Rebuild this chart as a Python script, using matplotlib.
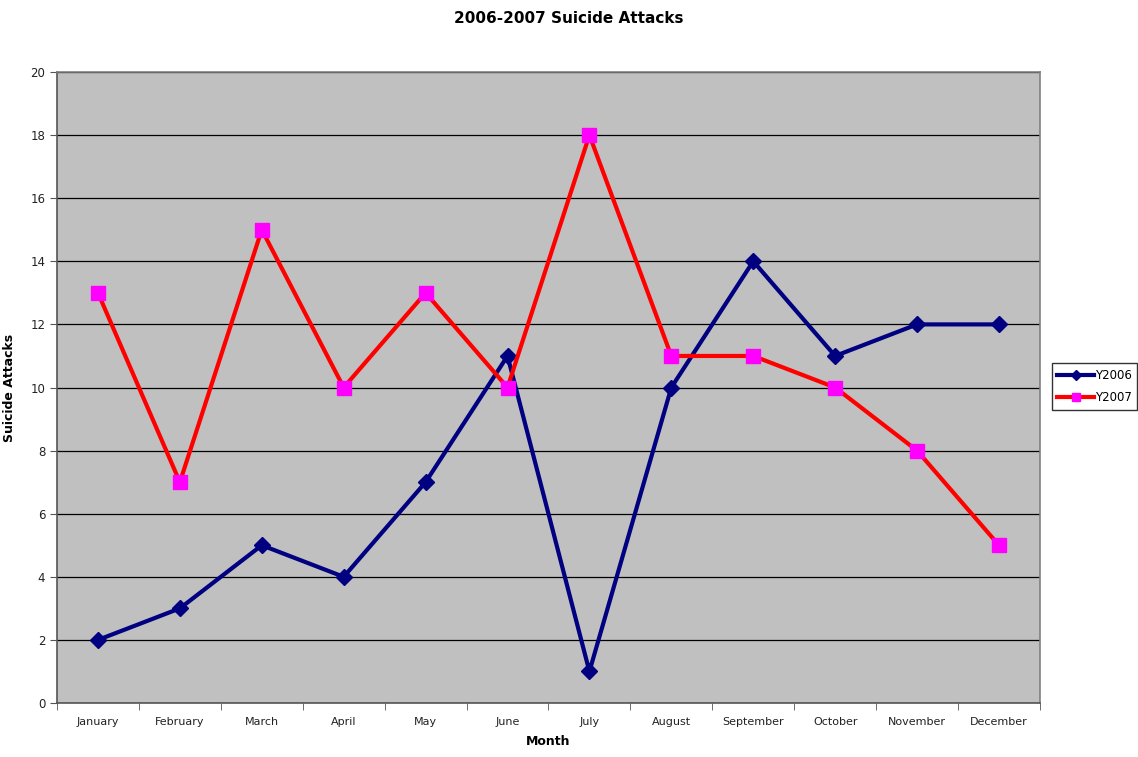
import numpy as np
import matplotlib
matplotlib.use('Agg')
import matplotlib.pyplot as plt

months = ['January', 'February', 'March', 'April', 'May', 'June', 'July',
          'August', 'September', 'October', 'November', 'December']
y2006 = [2, 3, 5, 4, 7, 11, 1, 10, 14, 11, 12, 12]
y2007 = [13, 7, 15, 10, 13, 10, 18, 11, 11, 10, 8, 5]
yticks = list(range(0, 21, 2))

plt.rcParams['font.family'] = 'DejaVu Sans'

fig = plt.figure(figsize=(11.38, 7.57), dpi=100)
ax = fig.add_axes([0.0501, 0.0713, 0.8637, 0.8336])
ax.set_facecolor('#c0c0c0')

x = np.arange(len(months))
ax.plot(x, y2006, color='#000080', lw=3, marker='D', ms=8, label='Y2006', zorder=3)
ax.plot(x, y2007, color='#ff0000', lw=3, marker='s', ms=10.5,
        mfc='#ff00ff', mec='#ff00ff', label='Y2007', zorder=4)

ax.set_xlim(-0.5, len(months) - 0.5)
ax.set_ylim(0, 20)
ax.set_yticks(yticks)
ax.set_xticks(x)
ax.set_xticklabels(months, color='#222222')
ax.set_xticks(np.arange(-0.5, len(months), 1), minor=True)
ax.tick_params(axis='x', which='major', length=0, labelsize=8, pad=10)
ax.tick_params(axis='x', which='minor', length=5, color='#555555', direction='out')
ax.tick_params(axis='y', length=5, color='#555555', labelsize=8.5, labelcolor='#222222')
ax.yaxis.grid(True, color='black', lw=0.9)
ax.set_axisbelow(True)
for s in ax.spines.values():
    s.set_color('#808080')
    s.set_linewidth(1.2)
ax.spines['left'].set_color('#555555')
ax.spines['bottom'].set_color('#555555')

ax.set_xlabel('Month', fontsize=9, fontweight='bold', labelpad=6)
ax.set_ylabel('Suicide Attacks', fontsize=9, fontweight='bold', labelpad=10)
fig.suptitle('2006-2007 Suicide Attacks', fontsize=11, fontweight='bold', y=0.985)

leg = ax.legend(loc='center left', bbox_to_anchor=(0.924, 0.489), bbox_transform=fig.transFigure,
                fontsize=8.5, frameon=True, fancybox=False, handlelength=3.1,
                handletextpad=0.05, borderpad=0.5, labelspacing=0.75, borderaxespad=0,
                markerscale=0.6)
leg.get_frame().set_edgecolor('black')
leg.get_frame().set_linewidth(1)

fig.savefig('out.png', dpi=100)
